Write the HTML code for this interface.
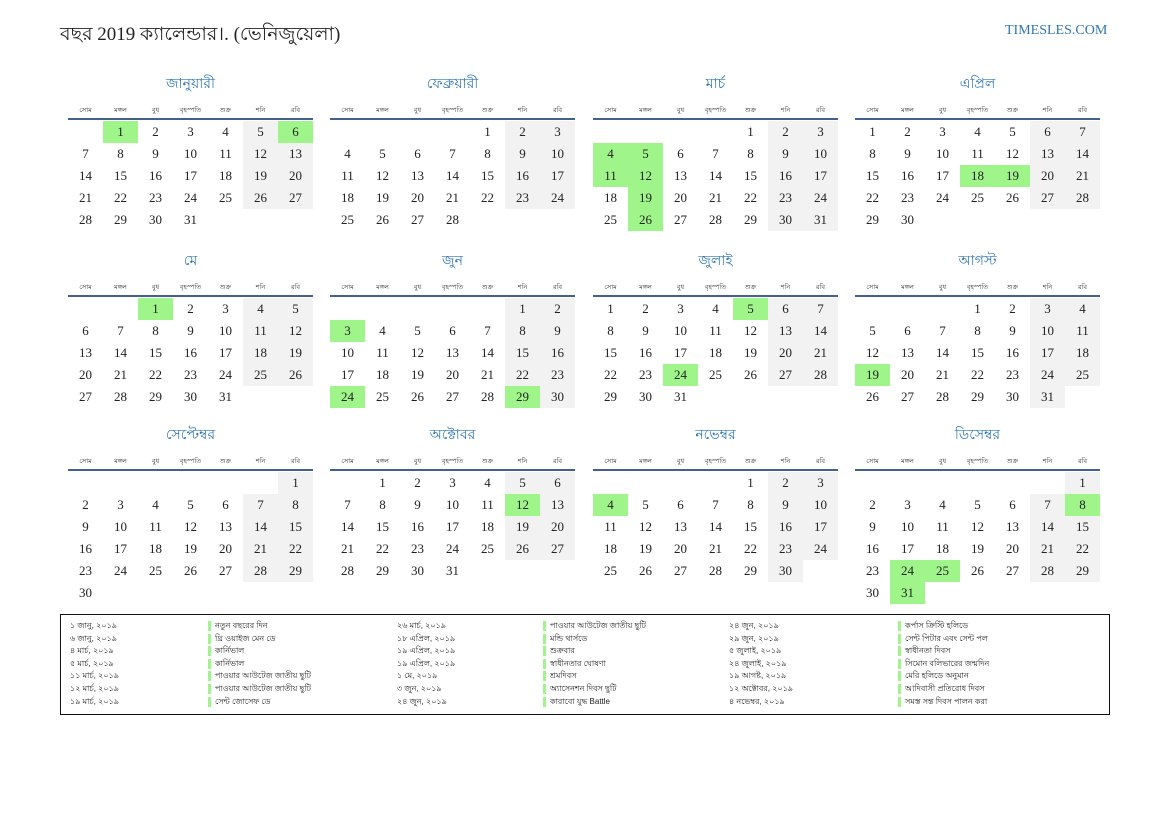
<!DOCTYPE html>
<html><head><meta charset="utf-8"><style>
body{margin:0;width:1169px;height:827px;background:#fff;position:relative;overflow:hidden;font-family:"Liberation Serif","Noto Serif CJK SC",serif;}
.a{position:absolute;}
.c{position:absolute;width:35px;height:22px;line-height:22px;text-align:center;font-size:13px;color:#222;}
.wd{position:absolute;width:35px;text-align:center;font-size:6.5px;color:#333;font-family:"Liberation Sans",sans-serif;}
.mt{position:absolute;width:245px;text-align:center;color:#2e75b6;font-size:14px;}
.lg{position:absolute;font-size:8px;color:#222;white-space:nowrap;font-family:"Liberation Sans",sans-serif;}
.bar{position:absolute;width:3px;height:10px;background:#a0f58a;}
</style></head><body>
<div class="a" style="left:60px;top:20px;font-size:19px;color:#222;">বছর 2019 ক্যালেন্ডার।. (ভেনিজুয়েলা)</div>
<div class="a" style="left:1005px;top:23px;font-size:14px;color:#2e75b6;">TIMESLES.COM</div>
<div id="cal"></div>
<div class="a" style="left:60px;top:614px;width:1048px;height:99px;border:1.5px solid #111;"></div>
<div id="leg"></div>
<script>
const monthNames=["জানুয়ারী","ফেব্রুয়ারী","মার্চ","এপ্রিল","মে","জুন","জুলাই","আগস্ট","সেপ্টেম্বর","অক্টোবর","নভেম্বর","ডিসেম্বর"];
const weekdays=["সোম","মঙ্গল","বুধ","বৃহস্পতি","শুক্র","শনি","রবি"];
const holidays=[[1,1],[1,6],[3,4],[3,5],[3,11],[3,12],[3,19],[3,26],[4,18],[4,19],[5,1],[6,3],[6,24],[6,29],[7,5],[7,24],[8,19],[10,12],[11,4],[12,8],[12,24],[12,25],[12,31]];
const legDates=["১ জানু, ২০১৯","৬ জানু, ২০১৯","৪ মার্চ, ২০১৯","৫ মার্চ, ২০১৯","১১ মার্চ, ২০১৯","১২ মার্চ, ২০১৯","১৯ মার্চ, ২০১৯","২৬ মার্চ, ২০১৯","১৮ এপ্রিল, ২০১৯","১৯ এপ্রিল, ২০১৯","১৯ এপ্রিল, ২০১৯","১ মে, ২০১৯","৩ জুন, ২০১৯","২৪ জুন, ২০১৯","২৪ জুন, ২০১৯","২৯ জুন, ২০১৯","৫ জুলাই, ২০১৯","২৪ জুলাই, ২০১৯","১৯ আগষ্ট, ২০১৯","১২ অক্টোবর, ২০১৯","৪ নভেম্বর, ২০১৯"];
const legNames=["নতুন বছরের দিন","থ্রি ওয়াইজ মেন ডে","কার্নিভাল","কার্নিভাল","পাওয়ার আউটেজ জাতীয় ছুটি","পাওয়ার আউটেজ জাতীয় ছুটি","সেন্ট জোসেফ ডে","পাওয়ার আউটেজ জাতীয় ছুটি","মন্ডি থার্সডে","শুক্রবার","স্বাধীনতার ঘোষণা","শ্রমদিবস","অ্যাসেনশন দিবস ছুটি","কারাবো যুদ্ধ Battle","কর্পাস ক্রিস্টি হলিডে","সেন্ট পিটার এবং সেন্ট পল","স্বাধীনতা দিবস","সিমোন বলিভারের জন্মদিন","মেরি হলিডে অনুমান","আদিবাসী প্রতিরোধ দিবস","সমস্ত সন্ত দিবস পালন করা"];
const colX=[68,330,593,855], rowY=[72,249,423];
const cal=document.getElementById('cal');
function mk(cls,txt,l,t,name,extra){const d=document.createElement('div');d.className=cls;d.textContent=txt;d.style.left=l+'px';d.style.top=t+'px';if(extra)Object.assign(d.style,extra);


cal.appendChild(d);return d;}
for(let m=0;m<12;m++){
 const x0=colX[m%4], y0=rowY[Math.floor(m/4)];
 mk('mt',monthNames[m],x0,y0,'month-title');
 weekdays.forEach((w,i)=>mk('wd',w,x0+i*35,y0+33,'weekday-header'));
 mk('a','',x0,y0+46,'month-divider',{width:'245px',height:'2px',background:'#44608f'});
 const first=(new Date(2019,m,1).getDay()+6)%7, days=new Date(2019,m+1,0).getDate();
 for(let d=1;d<=days;d++){
  const p=first+d-1, col=p%7, row=Math.floor(p/7);
  const hol=holidays.some(h=>h[0]===m+1&&h[1]===d);
  const bg=hol?'#a0f58a':(col>=5?'#f2f2f2':'transparent');
  const e=mk('c',d,x0+col*35,y0+49+row*22,hol?'holiday-day':'day-cell',{background:bg});
 }
}
const leg=document.getElementById('leg');
const dX=[70,397,729], nX=[215,550,905];
legDates.forEach((dt,i)=>{
 const c=Math.floor(i/7), r=i%7, y=620+r*12.6;
 const a=document.createElement('div');a.className='lg';a.textContent=dt;a.style.left=dX[c]+'px';a.style.top=y+'px';
 
 
 leg.appendChild(a);
 const b=document.createElement('div');b.className='bar';b.style.left=(nX[c]-7)+'px';b.style.top=(y+1)+'px';
 
 
 leg.appendChild(b);
 const n=document.createElement('div');n.className='lg';n.textContent=legNames[i];n.style.left=nX[c]+'px';n.style.top=y+'px';
 
 
 leg.appendChild(n);
});
</script>
</body></html>
